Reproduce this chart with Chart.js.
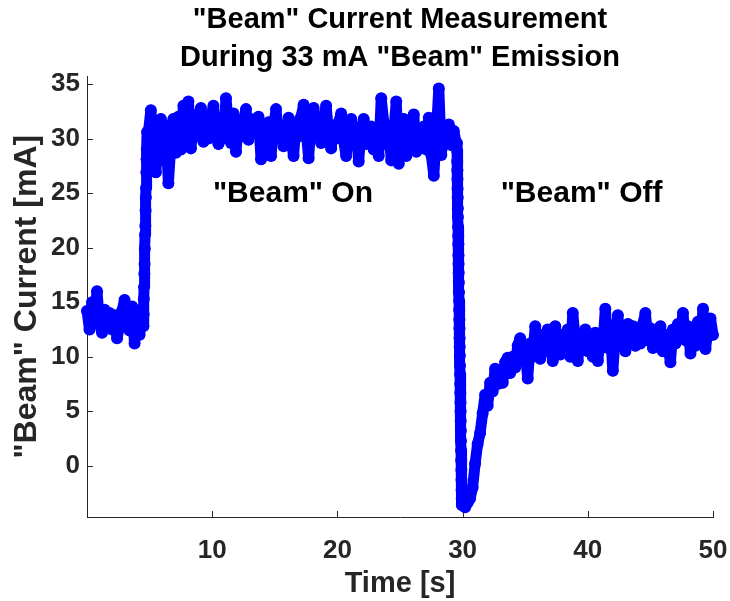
<!DOCTYPE html>
<html lang="en">
<head>
<meta charset="UTF-8" />
<script src="https://cdn.jsdelivr.net/npm/chart.js@4.4.1/dist/chart.umd.min.js"></script>
<style>
  body { margin: 0; background: #fff; }
</style>
</head>
<body>
<canvas id="chart" width="730" height="601"></canvas>
<script>
// trace stretches: start time [s], sample spacing [s], current [mA]
const baselineStart = 0.0, baselineStep = 0.2
const baselineCurrent = [14.2, 12.5, 15.0, 13.2, 16.0, 13.0, 12.2, 14.3, 13.0, 14.0, 12.5, 13.8,
	11.7, 12.8, 14.2, 15.2, 13.5, 12.4, 14.6, 11.2, 13.8, 12.0, 14.4]

const riseStart = 4.5, riseStep = 0.02
const riseCurrent = [12.8, 13.9, 15.3, 16.4, 17.6, 18.5, 19.9, 21.2, 22.0, 23.4, 24.6, 25.5,
	26.9, 28.1, 29.0, 30.6]

const beamOnStart = 4.9, beamOnStep = 0.2
const beamOnCurrent = [
	30.5, 32.6, 29.2, 26.9, 30.5, 31.8, 28.0, 31.2, 25.9, 29.5,
	31.8, 28.7, 32.0, 29.0, 33.0, 30.0, 33.4, 29.1, 31.5, 30.2,
	32.2, 32.8, 29.7, 31.0, 30.0, 32.0, 33.0, 30.2, 29.5, 31.5,
	30.0, 33.7, 31.2, 29.6, 32.3, 28.8, 31.5, 30.2, 31.6, 32.7,
	29.9, 31.8, 30.5, 31.0, 32.0, 28.1, 31.2, 29.5, 31.5, 28.4,
	31.0, 32.7, 30.0, 31.2, 29.3, 30.5, 31.9, 30.0, 28.4, 31.5,
	30.2, 32.0, 33.1, 30.8, 28.2, 31.5, 32.8, 30.2, 31.0, 29.6,
	31.8, 33.0, 30.5, 29.1, 31.2, 30.0, 31.5, 32.3, 29.8, 28.4,
	30.6, 31.8, 29.5, 30.8, 27.9, 31.0, 31.8, 29.5, 30.5, 31.1,
	29.0, 30.5, 28.4, 33.7, 31.5, 29.5, 31.1, 28.0, 30.5, 33.4,
	27.7, 30.8, 31.8, 28.4, 30.5, 31.5, 32.2, 28.8, 30.6, 29.5,
	31.1, 29.0, 31.9, 28.5, 26.6, 30.5, 34.6, 28.5, 31.0, 29.5,
	31.3, 29.4, 30.7, 29.5]

const dropStart = 29.55, dropStep = 0.01
const dropCurrent = [29.6, 28.9, 27.9, 27.1, 26.3, 25.4, 24.6, 23.6, 22.8, 21.9, 21.1, 20.3,
	19.3, 18.5, 17.7, 16.8, 15.9, 15.1, 14.3, 13.4, 12.6, 11.7, 10.9, 10.1, 9.2, 8.4, 7.5, 6.7,
	5.8, 5.0, 4.1, 3.2, 2.3, 1.4, 0.5, -0.4, -1.3, -2.2, -3.0, -3.6]

const beamOffStart = 30.0, beamOffStep = 0.2
const beamOffCurrent = [
	-3.2, -3.8, -3.4, -3.0, -2.0, 0.2, 2.0, 3.0, 4.8, 6.5,
	5.5, 7.6, 6.8, 8.9, 7.5, 8.5, 7.6, 9.5, 9.9, 8.5,
	10.0, 9.0, 11.0, 11.7, 9.8, 10.5, 8.0, 11.2, 10.0, 12.8,
	11.0, 9.8, 12.0, 10.5, 12.5, 11.0, 9.6, 12.8, 11.5, 10.2,
	12.0, 11.0, 12.5, 10.0, 14.0, 11.5, 9.6, 12.0, 11.0, 12.5,
	10.5, 11.8, 10.0, 12.2, 9.6, 12.0, 11.0, 14.4, 10.8, 12.5,
	8.7, 12.0, 13.8, 11.0, 12.2, 10.5, 13.0, 11.5, 12.8, 11.0,
	12.5, 11.2, 13.0, 14.0, 11.5, 12.6, 10.8, 12.2, 11.0, 12.8,
	10.5, 12.0, 11.0, 9.5, 12.5, 11.2, 13.0, 12.0, 14.0, 11.5,
	12.8, 10.3, 12.5, 11.0, 13.2, 11.2, 14.4, 10.7, 12.5, 13.5,
	12.0]

const xTickValues = [10, 20, 30, 40, 50]
const yTickValues = [0, 5, 10, 15, 20, 25, 30, 35]
const annotations = [
	{ text: '"Beam" On', x: 16.45, y: 24.9 },
	{ text: '"Beam" Off', x: 39.5, y: 24.9 },
]

const FONT = "'Liberation Sans', Arial, Helvetica, sans-serif"
const AXIS_COLOR = '#262626'

const stretch = (start, step, values) => values.map((v, i) => ({ x: +(start + i * step).toFixed(3), y: v }))
const trace = [
	...stretch(baselineStart, baselineStep, baselineCurrent),
	...stretch(riseStart, riseStep, riseCurrent),
	...stretch(beamOnStart, beamOnStep, beamOnCurrent),
	...stretch(dropStart, dropStep, dropCurrent),
	...stretch(beamOffStart, beamOffStep, beamOffCurrent),
]

const fixedBox = (size) => (scale) => {
	if (scale.isHorizontal()) scale.height = size
	else scale.width = size
	scale.paddingLeft = scale.paddingRight = scale.paddingTop = scale.paddingBottom = 0
}

// MATLAB style inward tick marks
const innerTicks = {
	id: 'innerTicks',
	beforeDatasetsDraw(chart) {
		const { ctx, chartArea, scales } = chart
		ctx.save()
		ctx.strokeStyle = AXIS_COLOR
		ctx.lineWidth = 1
		ctx.beginPath()
		scales.x.ticks.forEach((t) => {
			const px = Math.round(scales.x.getPixelForValue(t.value)) + 0.5
			ctx.moveTo(px, chartArea.bottom)
			ctx.lineTo(px, chartArea.bottom - 6)
		})
		scales.y.ticks.forEach((t) => {
			const py = Math.round(scales.y.getPixelForValue(t.value)) + 0.5
			ctx.moveTo(chartArea.left, py)
			ctx.lineTo(chartArea.left + 6, py)
		})
		ctx.stroke()
		ctx.restore()
	},
}

const labels = {
	id: 'labels',
	afterDraw(chart) {
		const { ctx, scales } = chart
		ctx.save()
		ctx.fillStyle = '#000'
		ctx.font = `bold 30px ${FONT}`
		ctx.textAlign = 'center'
		ctx.textBaseline = 'middle'
		annotations.forEach((a) => {
			ctx.fillText(a.text, scales.x.getPixelForValue(a.x), scales.y.getPixelForValue(a.y))
		})
		ctx.restore()
	},
}

new Chart(document.getElementById('chart'), {
	type: 'scatter',
	data: {
		datasets: [{
			data: trace,
			showLine: true,
			borderColor: '#0000ff',
			borderWidth: 11,
			borderJoinStyle: 'round',
			borderCapStyle: 'round',
			pointRadius: 6,
			pointBorderWidth: 0,
			pointBackgroundColor: '#0000ff',
			clip: false,
		}],
	},
	options: {
		responsive: false,
		animation: false,
		events: [],
		layout: { padding: { left: 0, right: 17, top: 0, bottom: 0 } },
		plugins: {
			legend: { display: false },
			tooltip: { enabled: false },
			title: {
				display: true,
				fullSize: false,
				text: ['"Beam" Current Measurement', 'During 33 mA "Beam" Emission'],
				color: '#000',
				font: { family: FONT, size: 29, weight: 'bold', lineHeight: 1.3 },
				padding: { top: 1, bottom: 0 },
			},
		},
		scales: {
			x: {
				type: 'linear',
				min: 0,
				max: 50,
				grid: { display: false, drawTicks: false },
				border: { display: true, color: AXIS_COLOR, width: 1 },
				ticks: { color: AXIS_COLOR, padding: 18, font: { family: FONT, size: 26, weight: 'bold' } },
				title: {
					display: true,
					text: 'Time [s]',
					color: AXIS_COLOR,
					font: { family: FONT, size: 29, weight: 'bold' },
					padding: { top: 0, bottom: 0 },
				},
				afterBuildTicks: (s) => { s.ticks = xTickValues.map((v) => ({ value: v })) },
				afterFit: fixedBox(84),
			},
			y: {
				min: -4.7,
				max: 35.7,
				grid: { display: false, drawTicks: false },
				border: { display: true, color: AXIS_COLOR, width: 1 },
				ticks: { color: AXIS_COLOR, padding: 7, font: { family: FONT, size: 26, weight: 'bold' } },
				title: {
					display: true,
					text: '"Beam" Current [mA]',
					color: AXIS_COLOR,
					font: { family: FONT, size: 32, weight: 'bold' },
					padding: { top: 8, bottom: 0 },
				},
				afterBuildTicks: (s) => { s.ticks = yTickValues.map((v) => ({ value: v })) },
				afterFit: fixedBox(87),
			},
		},
	},
	plugins: [innerTicks, labels],
})
</script>
</body>
</html>
